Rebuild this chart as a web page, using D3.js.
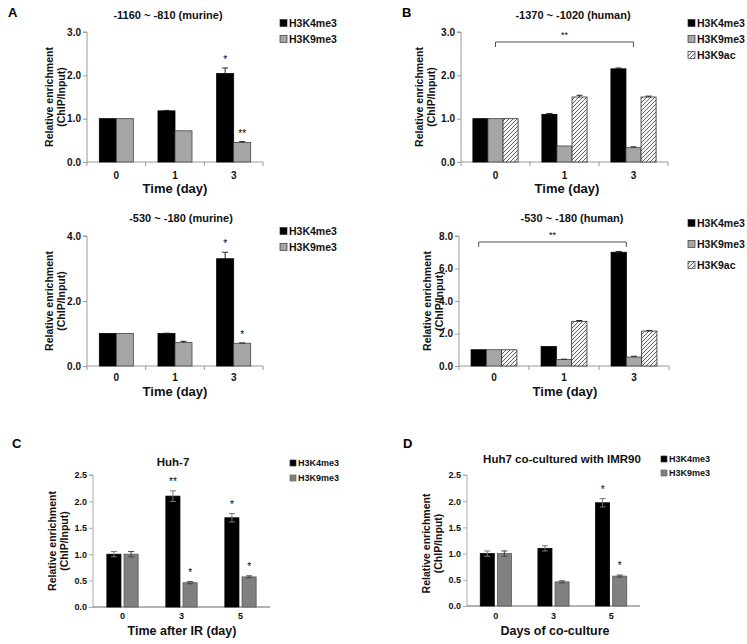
<!DOCTYPE html>
<html><head><meta charset="utf-8">
<script src="https://cdn.jsdelivr.net/npm/d3@7"></script>
<style>body{margin:0;background:#fff}svg{display:block;font-family:"Liberation Sans",Arial,sans-serif;font-weight:bold}</style>
</head><body><svg id="c" width="747" height="644"></svg>
<script>
// ---------- DATA ----------
const seriesAB2 = ["H3K4me3","H3K9me3"];
const seriesB = ["H3K4me3","H3K9me3","H3K9ac"];
const daysAB = ["0","1","3"];
const daysCD = ["0","3","5"];

const aTopK4 = [1.0, 1.18, 2.04], aTopK4Err = [0, 0.01, 0.13];
const aTopK9 = [1.0, 0.72, 0.45], aTopK9Err = [0, 0, 0.02];
const aTopStars = [["3","H3K4me3","*"],["3","H3K9me3","**"]];

const aBotK4 = [1.0, 1.0, 3.3], aBotK4Err = [0, 0.01, 0.2];
const aBotK9 = [1.0, 0.72, 0.7], aBotK9Err = [0, 0.04, 0.01];
const aBotStars = [["3","H3K4me3","*"],["3","H3K9me3","*"]];

const bTopK4 = [1.0, 1.1, 2.15], bTopK4Err = [0, 0.02, 0.02];
const bTopK9 = [1.0, 0.37, 0.33], bTopK9Err = [0, 0, 0.02];
const bTopAc = [1.0, 1.5, 1.5], bTopAcErr = [0, 0.04, 0.02];

const bBotK4 = [1.0, 1.2, 7.0], bBotK4Err = [0, 0, 0.05];
const bBotK9 = [1.0, 0.4, 0.55], bBotK9Err = [0, 0.02, 0.05];
const bBotAc = [1.0, 2.75, 2.15], bBotAcErr = [0, 0.05, 0.03];

const cK4 = [1.0, 2.1, 1.69], cK4Err = [0.05, 0.1, 0.08];
const cK9 = [1.0, 0.46, 0.57], cK9Err = [0.05, 0.02, 0.02];
const cStars = [["3","H3K4me3","**"],["3","H3K9me3","*"],["5","H3K4me3","*"],["5","H3K9me3","*"]];

const dK4 = [1.0, 1.1, 1.97], dK4Err = [0.05, 0.05, 0.08];
const dK9 = [1.0, 0.46, 0.57], dK9Err = [0.05, 0.02, 0.02];
const dStars = [["5","H3K4me3","*"],["5","H3K9me3","*"]];

const ticksA1 = [0,1,2,3], ticksA2 = [0,2,4], ticksB2 = [0,2,4,6,8], ticksCD = [0,0.5,1,1.5,2,2.5];

// ---------- DRAW ----------
const svg = d3.select("#c");
const defs = svg.append("defs");
const pat = defs.append("pattern").attr("id","hatch").attr("patternUnits","userSpaceOnUse").attr("width",4).attr("height",4);
pat.append("rect").attr("width",4).attr("height",4).attr("fill","#f4f4f4");
pat.append("path").attr("d","M-1,1 l2,-2 M0,4 l4,-4 M3,5 l2,-2").attr("stroke","#555").attr("stroke-width",0.9);

function panel(o){
  const g = svg.append("g");
  const x = d3.scaleBand().domain(o.cats).range([o.x0,o.x1]).paddingInner(o.pad).paddingOuter(o.pad/2);
  const xs = d3.scaleBand().domain(o.series.map(s=>s.name)).range([0,x.bandwidth()]).paddingInner(o.gap||0);
  const y = d3.scaleLinear().domain([0,o.max]).range([o.yb,o.yt]);
  const ya = d3.axisLeft(y).tickValues(o.ticks).tickFormat(d3.format(o.fmt)).tickSize(4);
  const ag = g.append("g").attr("transform",`translate(${o.x0},0)`).call(ya);
  ag.select(".domain").attr("stroke",o.axisColor).attr("d",`M-4,${o.yt}H0V${o.yb}`);
  ag.selectAll(".tick line").attr("stroke",o.axisColor);
  ag.selectAll(".tick text").attr("font-size",o.tickFs).attr("font-weight","bold").attr("fill","#111").attr("x",-6).attr("font-family","Liberation Sans, Arial");
  g.append("line").attr("x1",o.x0).attr("x2",o.x1).attr("y1",o.yb).attr("y2",o.yb).attr("stroke",o.xAxisColor||o.axisColor);
  const bounds = [o.x0].concat(o.cats.map(c=>x(c)+x.bandwidth()+x.step()*o.pad/2));
  if(o.xTicks) g.selectAll(".xb").data(bounds).join("line").attr("x1",d=>d).attr("x2",d=>d).attr("y1",o.yb).attr("y2",o.yb+4).attr("stroke",o.axisColor);
  g.selectAll(".xl").data(o.cats).join("text").attr("x",c=>x(c)+x.bandwidth()/2).attr("y",o.tickY).attr("text-anchor","middle").attr("font-size",o.tickFs).attr("fill","#111").text(c=>c);
  o.series.forEach(s=>{
    o.cats.forEach((c,i)=>{
      const bx = x(c)+xs(s.name), v=s.vals[i], e=s.err[i];
      g.append("rect").attr("x",bx).attr("y",y(v)).attr("width",xs.bandwidth()).attr("height",o.yb-y(v))
        .attr("fill",s.fill).attr("stroke",s.stroke).attr("stroke-width",0.8);
      if(e>0){
        const cx=bx+xs.bandwidth()/2;
        g.append("path").attr("d",`M${cx},${y(v)}V${y(v+e)}M${cx-3},${y(v+e)}H${cx+3}`).attr("stroke",s.errColor||"#222").attr("stroke-width",1).attr("fill","none");
        if(o.errBoth) g.append("path").attr("d",`M${cx},${y(v)}V${y(v-e)}M${cx-3},${y(v-e)}H${cx+3}`).attr("stroke",s.errColor||"#222").attr("stroke-width",1).attr("fill","none");
      }
    });
  });
  (o.stars||[]).forEach(([c,sn,t])=>{
    const s=o.series.find(d=>d.name===sn), i=o.cats.indexOf(c);
    const top=y(s.vals[i]+s.err[i]);
    g.append("text").attr("x",x(c)+xs(sn)+xs.bandwidth()/2).attr("y",top-o.starOff).attr("text-anchor","middle").attr("font-size",o.starFs).attr("font-weight","normal").attr("fill","#000").text(t);
  });
  if(o.bracket){
    const [xa,xb,by]=o.bracket(x,xs);
    g.append("path").attr("d",`M${xa},${by+5}V${by}H${xb}V${by+5}`).attr("fill","none").attr("stroke","#555").attr("stroke-width",1);
    g.append("text").attr("x",(xa+xb)/2).attr("y",by-4).attr("text-anchor","middle").attr("font-size",9).attr("font-weight","normal").attr("fill","#000").text("**");
  }
  g.append("text").attr("x",o.titleX).attr("y",o.titleY).attr("text-anchor","middle").attr("font-size",o.titleFs).attr("fill","#111").text(o.title);
  const ymid=(o.yt+o.yb)/2+o.ylOff;
  g.append("text").attr("transform",`translate(${o.ylX},${ymid}) rotate(-90)`).attr("text-anchor","middle").attr("font-size",o.ylFs).attr("fill","#111").text("Relative enrichment");
  g.append("text").attr("transform",`translate(${o.ylX+12},${ymid}) rotate(-90)`).attr("text-anchor","middle").attr("font-size",o.ylFs).attr("fill","#111").text("(ChIP/Input)");
  g.append("text").attr("x",o.xlX).attr("y",o.xlY).attr("text-anchor","middle").attr("font-size",o.xlFs).attr("fill","#111").text(o.xlabel);
  o.series.forEach((s,i)=>{
    const ly=o.legY+i*o.legStep;
    g.append("rect").attr("x",o.legX).attr("y",ly-o.legSq/2).attr("width",o.legSq).attr("height",o.legSq).attr("fill",s.fill).attr("stroke",s.legStroke||"#333").attr("stroke-width",0.7);
    g.append("text").attr("x",o.legX+o.legSq+2).attr("y",ly+o.legFs*0.36).attr("font-size",o.legFs).attr("fill","#111").text(s.name);
  });
  g.append("text").attr("x",o.letX).attr("y",o.letY).attr("font-size",13).attr("fill","#000").text(o.letter);
}

const gAB = "#a6a6a6", gCD = "#808080";
const ab = {pad:0.42, axisColor:"#9a9a9a", xTicks:true, fmt:".1f", tickFs:10, starFs:10, starOff:5, titleFs:11, ylFs:10.5, xlFs:13, legFs:10.5, legSq:7, legStep:16};

panel(Object.assign({}, ab, {cats:daysAB, x0:87, x1:263, yt:32, yb:162, max:3, ticks:ticksA1,
  series:[{name:seriesAB2[0], vals:aTopK4, err:aTopK4Err, fill:"#000", stroke:"#000"},
          {name:seriesAB2[1], vals:aTopK9, err:aTopK9Err, fill:gAB, stroke:"#444"}],
  stars:aTopStars, title:"-1160 ~ -810 (murine)", titleX:168, titleY:19, tickY:178.5, xlabel:"Time (day)", xlX:175, xlY:193,
  ylX:53, ylOff:0, legX:280, legY:23, letter:"A", letX:8, letY:17}));

panel(Object.assign({}, ab, {cats:daysAB, x0:87, x1:263, yt:236, yb:366, max:4, ticks:ticksA2,
  series:[{name:seriesAB2[0], vals:aBotK4, err:aBotK4Err, fill:"#000", stroke:"#000"},
          {name:seriesAB2[1], vals:aBotK9, err:aBotK9Err, fill:gAB, stroke:"#444"}],
  stars:aBotStars, title:"-530 ~ -180 (murine)", titleX:181, titleY:222, tickY:380.5, xlabel:"Time (day)", xlX:175, xlY:395.5,
  ylX:53, ylOff:0, legX:280, legY:231, letter:"", letX:0, letY:0}));

panel(Object.assign({}, ab, {pad:0.345, cats:daysAB, x0:461, x1:668, yt:32, yb:162, max:3, ticks:ticksA1,
  series:[{name:seriesB[0], vals:bTopK4, err:bTopK4Err, fill:"#000", stroke:"#000"},
          {name:seriesB[1], vals:bTopK9, err:bTopK9Err, fill:gAB, stroke:"#444"},
          {name:seriesB[2], vals:bTopAc, err:bTopAcErr, fill:"url(#hatch)", stroke:"#333"}],
  bracket:(x,xs)=>[x("0")+x.bandwidth()/2, x("3")+x.bandwidth()/2, 42],
  title:"-1370 ~ -1020 (human)", titleX:573, titleY:19, tickY:178.5, xlabel:"Time (day)", xlX:567, xlY:193,
  ylX:423, ylOff:0, legX:688, legY:23, letter:"B", letX:402, letY:17}));

panel(Object.assign({}, ab, {pad:0.345, cats:daysAB, x0:459, x1:669, yt:236, yb:366, max:8, ticks:ticksB2, legStep:21,
  series:[{name:seriesB[0], vals:bBotK4, err:bBotK4Err, fill:"#000", stroke:"#000"},
          {name:seriesB[1], vals:bBotK9, err:bBotK9Err, fill:gAB, stroke:"#444"},
          {name:seriesB[2], vals:bBotAc, err:bBotAcErr, fill:"url(#hatch)", stroke:"#333"}],
  bracket:(x,xs)=>[x("0")+xs.bandwidth()/2, x("3")+xs.bandwidth(), 242],
  title:"-530 ~ -180 (human)", titleX:572, titleY:222, tickY:381, xlabel:"Time (day)", xlX:565, xlY:396,
  ylX:431, ylOff:0, legX:688, legY:223, letter:"", letX:0, letY:0}));

const cd = {pad:0.47, gap:0.18, axisColor:"#aaa", xAxisColor:"#666", xTicks:false, fmt:".1f", tickFs:9, starFs:10, starOff:6, titleFs:11.5, ylFs:10.5, xlFs:12.5, legFs:9, legSq:6, errBoth:true};

panel(Object.assign({}, cd, {cats:daysCD, x0:93, x1:270, yt:475, yb:607, max:2.5, ticks:ticksCD,
  series:[{name:seriesAB2[0], vals:cK4, err:cK4Err, fill:"#000", stroke:"#000", errColor:"#777"},
          {name:seriesAB2[1], vals:cK9, err:cK9Err, fill:gCD, stroke:"#555", errColor:"#444", legStroke:"#666"}],
  stars:cStars, title:"Huh-7", titleX:173, titleY:466, tickY:619, xlabel:"Time after IR (day)", xlX:182, xlY:635,
  ylX:56, ylOff:0, legX:290, legY:463, legStep:15, letter:"C", letX:12, letY:448}));

panel(Object.assign({}, cd, {pad:0.46, cats:daysCD, x0:467, x1:640, yt:475, yb:606, max:2.5, ticks:ticksCD,
  series:[{name:seriesAB2[0], vals:dK4, err:dK4Err, fill:"#000", stroke:"#000", errColor:"#777"},
          {name:seriesAB2[1], vals:dK9, err:dK9Err, fill:gCD, stroke:"#555", errColor:"#444", legStroke:"#666"}],
  stars:dStars, title:"Huh7 co-cultured with IMR90", titleX:562, titleY:463, tickY:619, xlabel:"Days of co-culture", xlX:555, xlY:635,
  ylX:430, ylOff:3, legX:661, legY:459, legStep:14, letter:"D", letX:403, letY:448}));
</script></body></html>
